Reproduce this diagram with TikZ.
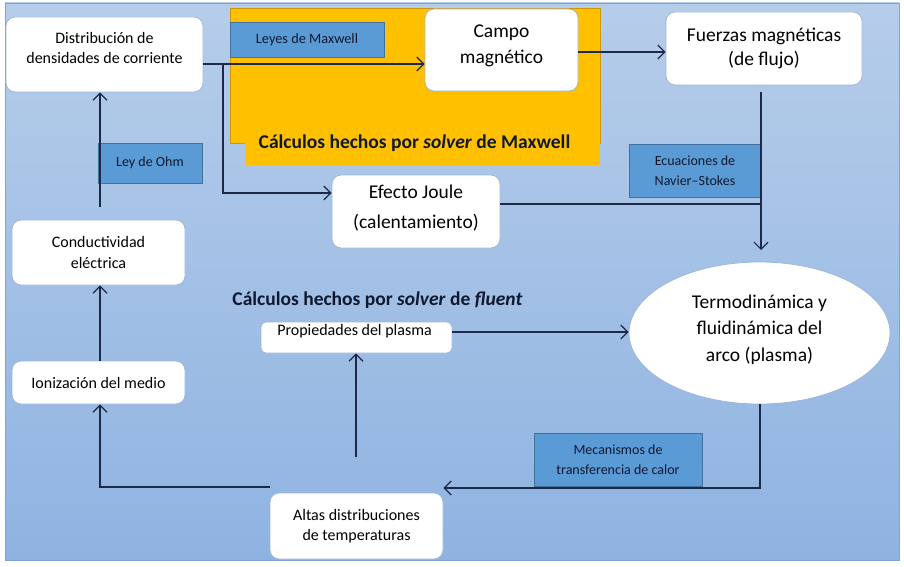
\documentclass[tikz,border=0pt]{standalone}
\usepackage{fontspec}
\setmainfont{Carlito}
\usetikzlibrary{arrows.meta,shapes.geometric}
\definecolor{bgtop}{HTML}{B6CDEA}
\definecolor{bgbot}{HTML}{8FB3E1}
\definecolor{bgedge}{HTML}{7FA3D3}
\definecolor{boxedge}{HTML}{9DB6D8}
\definecolor{lblfill}{HTML}{5B9BD5}
\definecolor{lbledge}{HTML}{41719C}
\definecolor{orng}{HTML}{FFC000}
\definecolor{navy}{HTML}{1C2A48}
\definecolor{ttl}{HTML}{101830}
\tikzset{
  wbox/.style={draw=boxedge, line width=0.8pt, fill=white, rounded corners=9pt, inner sep=0pt, align=center},
  txt/.style={inner sep=0pt, align=center},
  lbl/.style={draw=lbledge, line width=0.6pt, fill=lblfill, inner sep=0pt, align=center, text=ttl},
  conn/.style={draw=navy, line width=1.3pt},
  arr/.style={conn, -{Straight Barb[length=7pt,width=14pt,line width=1.2pt]}},
  ttlstyle/.style={inner sep=0pt, text=ttl, font=\fontsize{19.5}{23}\selectfont\bfseries}
}
\begin{document}
\begin{tikzpicture}[x=1pt,y=-1pt]
\useasboundingbox (0,0) rectangle (904,567);
\fill[white] (0,0) rectangle (904,567);
\shade[top color=bgtop, bottom color=bgbot, draw=bgedge, line width=0.8pt] (5,3) rectangle (899,560);
% orange area
\filldraw[fill=orng, draw=orng!80!black, line width=0.4pt] (230,8) rectangle (600,143);
\fill[orng] (245,118) rectangle (599.6,164.5);
\node[ttlstyle] (tmax) at (414.5,143) {Cálculos hechos por \textit{solver} de Maxwell};
% coordinates
\coordinate (y64) at (0,64);
\coordinate (y52) at (0,52);
\coordinate (y193) at (0,193);
\coordinate (y204) at (0,204);
\coordinate (y332) at (0,332);
\coordinate (br) at (223,64);
\coordinate (fA) at (761,92);
\coordinate (fB) at (761,250);
\coordinate (fJ) at (761,204);
\coordinate (eB) at (760,488);
\coordinate (aL) at (270,487);
\coordinate (aLL) at (100,487);
\coordinate (aT) at (356,457);
\coordinate (cT) at (100,207);
% nodes
\node[wbox, minimum width=197pt, minimum height=75pt] (dist) at (104.5,54.5) {};
\node[txt, font=\fontsize{16}{20}\selectfont] (distT) at (104.5,48.5) {Distribución de\\densidades de corriente};
\node[wbox, minimum width=153pt, minimum height=82pt] (campo) at (501.5,50) {};
\node[txt, font=\fontsize{19.5}{26}\selectfont] (campoT) at (501.5,46) {Campo\\magnético};
\node[wbox, minimum width=196pt, minimum height=73pt, font=\fontsize{19.5}{24.5}\selectfont] (fuerzas) at (764,48.5) {Fuerzas magnéticas\\(de flujo)};
\node[wbox, minimum width=168pt, minimum height=73pt] (joule) at (416,211.5) {};
\node[txt, font=\fontsize{19.5}{30}\selectfont] (jouleT) at (416,208.5) {Efecto Joule\\(calentamiento)};
\node[wbox, minimum width=173pt, minimum height=65pt, font=\fontsize{16}{20.5}\selectfont] (cond) at (98.5,252.5) {Conductividad\\eléctrica};
\node[wbox, minimum width=173pt, minimum height=43pt, font=\fontsize{16}{20}\selectfont] (ioniz) at (98.5,382.5) {Ionización del medio};
\node[wbox, rounded corners=5pt, minimum width=191pt, minimum height=31pt] (prop) at (356.5,337.5) {};
\node[txt, font=\fontsize{16}{20}\selectfont] (propT) at (354.5,331) {Propiedades del plasma};
\node[wbox, minimum width=173pt, minimum height=66pt, font=\fontsize{16}{20.5}\selectfont] (altas) at (356.5,526) {Altas distribuciones\\de temperaturas};
\node[ellipse, draw=boxedge, line width=0.8pt, fill=white, inner sep=0pt, minimum width=261pt, minimum height=142pt] (arco) at (759.5,333) {};
\node[txt, font=\fontsize{19.5}{26.7}\selectfont] (arcoT) at (759.5,329.5) {Termodinámica y\\fluidinámica del\\arco (plasma)};
\node[ttlstyle] (tflu) at (377.5,300) {Cálculos hechos por \textit{solver} de \textit{fluent}};
% labels
\node[lbl, minimum width=154pt, minimum height=35pt, font=\fontsize{14.3}{17}\selectfont] (leyes) at (307,40) {Leyes de Maxwell};
\node[lbl, minimum width=104pt, minimum height=40pt, font=\fontsize{14}{17}\selectfont] (ohm) at (150,163) {Ley de Ohm};
\node[lbl, minimum width=132pt, minimum height=53pt, font=\fontsize{14}{20.5}\selectfont] (navier) at (695,170.5) {Ecuaciones de\\Navier–Stokes};
\node[lbl, minimum width=168pt, minimum height=53pt, font=\fontsize{14}{19.5}\selectfont] (mecan) at (618,459.5) {Mecanismos de\\transferencia de calor};
% connectors
\draw[arr] (dist.east |- y64) -- (campo.west |- y64);
\draw[arr] (br) |- (joule.west |- y193);
\draw[arr] (campo.east |- y52) -- (fuerzas.west |- y52);
\draw[arr] (fA) -- (fB);
\draw[conn] (joule.east |- y204) -- (fJ);
\draw[arr] (prop.east |- y332) -- (arco.west |- y332);
\draw[arr] (arco.south -| eB) -- (eB) -- (altas.east |- eB);
\draw[arr] (aL) -- (aLL) -- (ioniz.south -| aLL);
\draw[arr] (aT) -- (prop.south -| aT);
\draw[arr] (ioniz.north -| aLL) -- (cond.south -| aLL);
\draw[arr] (cT) -- (dist.south -| cT);
\end{tikzpicture}
\end{document}
